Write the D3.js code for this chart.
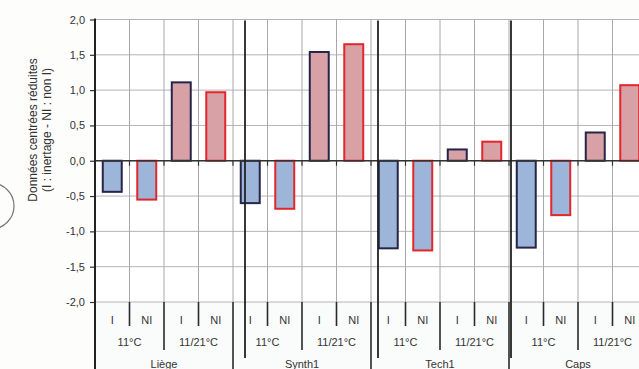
<!DOCTYPE html>
<html>
<head>
<meta charset="utf-8">
<script src="https://cdn.jsdelivr.net/npm/d3@7"></script>
<style>
  html, body { margin: 0; padding: 0; background: #fdfdfc; }
  svg { display: block; font-family: "Liberation Sans", Arial, sans-serif; }
</style>
</head>
<body>
<svg id="chart" width="639" height="369"></svg>
<script>
// Sites, temperature regimes and treatments
const sites = ["Liège", "Synth1", "Tech1", "Caps"];
const regimes = ["11°C", "11/21°C"];
const treatments = ["I", "NI"];

// Reduced centred values, one row per site: [11°C I, 11°C NI, 11/21°C I, 11/21°C NI]
const liege  = [-0.44, -0.55, 1.11, 0.97];
const synth1 = [-0.60, -0.68, 1.54, 1.65];
const tech1  = [-1.24, -1.27, 0.16, 0.27];
const caps   = [-1.23, -0.77, 0.40, 1.07];
const seriesBySite = [liege, synth1, tech1, caps];

const yTicks = [-2, -1.5, -1, -0.5, 0, 0.5, 1, 1.5, 2];

// Flatten into one record per bar
const rows = [];
sites.forEach((s, si) => {
  regimes.forEach((r, ri) => {
    treatments.forEach((t, ti) => {
      rows.push({ site: s, regime: r, treat: t, key: s + "|" + r + "|" + t,
                  value: seriesBySite[si][ri * 2 + ti] });
    });
  });
});

const svg = d3.select("#chart");
const W = 639, H = 369;
const plotLeft = 95, plotTop = 19.5, plotBottom = 302;
const colW = 34.5;
const FONT = "'Liberation Sans', Arial, sans-serif";

const x = d3.scaleBand()
  .domain(rows.map(d => d.key))
  .range([plotLeft, plotLeft + colW * rows.length])
  .padding(0);

const y = d3.scaleLinear().domain([-2, 2]).range([plotBottom, plotTop]);

const fmt = v => d3.format(".1f")(v).replace(".", ",").replace("−", "-");

// Label strip below the plot
svg.append("rect").attr("x", plotLeft).attr("y", plotBottom).attr("width", W - plotLeft)
  .attr("height", H - plotBottom).attr("fill", "#fafbfb");
svg.append("rect").attr("x", plotLeft).attr("y", plotTop).attr("width", W - plotLeft)
  .attr("height", plotBottom - plotTop).attr("fill", "#ffffff");

// Horizontal grid
svg.append("g").selectAll("line").data(yTicks).join("line")
  .attr("x1", plotLeft).attr("x2", W)
  .attr("y1", d => y(d)).attr("y2", d => y(d))
  .attr("stroke", "#b4b4b8").attr("stroke-width", 1);

// Vertical grid at column boundaries
const bounds = rows.map(d => x(d.key)).slice(1);
svg.append("g").selectAll("line").data(bounds).join("line")
  .attr("x1", d => d).attr("x2", d => d)
  .attr("y1", plotTop).attr("y2", plotBottom)
  .attr("stroke", "#a8a8ac").attr("stroke-width", 1);

// Bars
const barW = x.bandwidth() * 0.55;
svg.append("g").selectAll("rect").data(rows).join("rect")
  .attr("x", d => x(d.key) + (x.bandwidth() - barW) / 2)
  .attr("width", barW)
  .attr("y", d => y(Math.max(0, d.value)))
  .attr("height", d => Math.abs(y(d.value) - y(0)))
  .attr("fill", d => d.value < 0 ? "#9db5d8" : "#d7a1a6")
  .attr("stroke", d => d.treat === "I" ? "#25254a" : "#e2262b")
  .attr("stroke-width", 2);

// Zero line with ticks at column boundaries
svg.append("line").attr("x1", plotLeft).attr("x2", W)
  .attr("y1", y(0)).attr("y2", y(0))
  .attr("stroke", "#333").attr("stroke-width", 1.5);
svg.append("g").selectAll("line").data(bounds).join("line")
  .attr("x1", d => d).attr("x2", d => d)
  .attr("y1", y(0)).attr("y2", y(0) + 5)
  .attr("stroke", "#333").attr("stroke-width", 1.2);

// Y axis
const yAxis = d3.axisLeft(y).tickValues(yTicks).tickFormat(fmt).tickSize(5).tickPadding(5);
const gy = svg.append("g").attr("transform", `translate(${plotLeft},0)`).call(yAxis);
gy.select(".domain").remove();
gy.selectAll(".tick line").attr("stroke", "#333").attr("stroke-width", 1.2);
gy.selectAll(".tick text").attr("fill", "#333").attr("font-size", 11)
  .attr("font-family", FONT);
svg.append("line").attr("x1", plotLeft).attr("x2", plotLeft).attr("y1", plotTop - 1).attr("y2", H)
  .attr("stroke", "#222").attr("stroke-width", 2);

// Y axis title
const yt = svg.append("text").attr("transform", `translate(37,130) rotate(-90)`)
  .attr("text-anchor", "middle").attr("fill", "#333").attr("font-size", 12)
  .attr("font-family", FONT);
yt.append("tspan").attr("x", 0).attr("dy", 0).text("Données centrées réduites");
yt.append("tspan").attr("x", 0).attr("dy", 14).text("(I : inertage - NI : non I)");

// Category labels: treatments, regimes, sites
const lab = svg.append("g").attr("fill", "#333").attr("font-size", 11)
  .attr("font-family", FONT).attr("text-anchor", "middle");
lab.selectAll("text.t").data(rows).join("text").attr("class", "t")
  .attr("x", d => x(d.key) + x.bandwidth() / 2).attr("y", 324)
  .text(d => d.treat);

const regimeGroups = d3.groups(rows, d => d.site + "|" + d.regime);
lab.selectAll("text.r").data(regimeGroups).join("text").attr("class", "r")
  .attr("x", d => x(d[1][0].key) + x.bandwidth())
  .attr("y", 346)
  .text(d => d[1][0].regime);

const siteGroups = d3.groups(rows, d => d.site);
lab.selectAll("text.s").data(siteGroups).join("text").attr("class", "s")
  .attr("x", d => x(d[1][0].key) + 2 * x.bandwidth())
  .attr("y", 368)
  .text(d => d[0]);

// Separators in the label strip
const sep = svg.append("g").attr("stroke", "#2a2a2a").attr("stroke-width", 1.6);
rows.forEach((d, i) => {
  if (i === 0) return;
  const xx = x(d.key);
  let y2;
  if (i % 4 === 0) y2 = H;
  else if (i % 2 === 0) y2 = 350;
  else y2 = 326;
  sep.append("line").attr("x1", xx).attr("x2", xx).attr("y1", plotBottom).attr("y2", y2);
});

// Hand-drawn site dividers across the plot
const dividerShift = [12, 7, 2];
siteGroups.slice(1).forEach((g, i) => {
  const xx = x(g[1][0].key) + dividerShift[i];
  svg.append("line").attr("x1", xx).attr("x2", xx).attr("y1", plotTop + 1).attr("y2", 358)
    .attr("stroke", "#222").attr("stroke-width", 1.8);
});

// Punched hole in the page margin
svg.append("circle").attr("cx", -9).attr("cy", 206).attr("r", 23)
  .attr("fill", "none").attr("stroke", "#777").attr("stroke-width", 1.2);
</script>
</body>
</html>
